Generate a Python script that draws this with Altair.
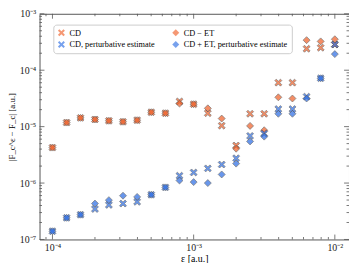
import altair as alt
import pandas as pd

# epsilon values [a.u.]
eps = [1.0e-4, 1.26e-4, 1.58e-4, 2.0e-4, 2.51e-4, 3.16e-4, 3.98e-4, 5.01e-4, 6.31e-4, 7.94e-4,
       1.0e-3, 1.26e-3, 1.58e-3, 2.0e-3, 2.51e-3, 3.16e-3, 3.98e-3, 5.01e-3, 6.31e-3, 7.94e-3, 1.0e-2]

cd = [4.25e-6, 1.18e-5, 1.43e-5, 1.34e-5, 1.27e-5, 1.22e-5, 1.30e-5, 1.80e-5, 1.73e-5, 2.80e-5,
      2.50e-5, 1.73e-5, 1.04e-5, 4.63e-6, 1.69e-5, 1.69e-5, 6.02e-5, 6.02e-5, 2.40e-4, 2.50e-4, 2.85e-4]
cd_et = [4.25e-6, 1.18e-5, 1.43e-5, 1.34e-5, 1.27e-5, 1.22e-5, 1.30e-5, 1.80e-5, 1.73e-5, 2.56e-5,
         2.50e-5, 2.11e-5, 1.39e-5, 4.06e-6, 1.03e-5, 8.63e-6, 3.31e-5, 3.15e-5, 3.41e-4, 3.24e-4, 3.54e-4]
cd_pert = [1.40e-7, 2.42e-7, 2.75e-7, 3.47e-7, 4.10e-7, 4.33e-7, 4.64e-7, 6.21e-7, 8.38e-7, 1.35e-6,
           1.54e-6, 1.82e-6, 2.13e-6, 2.75e-6, 6.84e-6, 7.55e-6, 2.05e-5, 2.05e-5, 3.40e-5, 7.20e-5, 2.85e-4]
cd_et_pert = [1.40e-7, 2.42e-7, 2.75e-7, 4.33e-7, 4.98e-7, 5.97e-7, 5.68e-7, 6.21e-7, 8.38e-7, 1.11e-6,
              1.04e-6, 1.00e-6, 1.42e-6, 2.21e-6, 5.47e-6, 6.65e-6, 1.69e-5, 1.69e-5, 3.15e-5, 7.20e-5, 1.93e-4]

names = ["CD", "CD − ET", "CD, perturbative estimate", "CD + ET, perturbative estimate"]
series = [cd, cd_et, cd_pert, cd_et_pert]
legend_order = [names[0], names[2], names[1], names[3]]
colors = {names[0]: "#f0622a", names[1]: "#f0622a", names[2]: "#2f6fe4", names[3]: "#2f6fe4"}
XPATH = "M-1,-0.6L-0.6,-1L0,-0.4L0.6,-1L1,-0.6L0.4,0L1,0.6L0.6,1L0,0.4L-0.6,1L-1,0.6L-0.4,0Z"
shapes = {names[0]: XPATH, names[1]: "diamond", names[2]: XPATH, names[3]: "diamond"}
sizes = {names[0]: 50, names[1]: 100, names[2]: 50, names[3]: 100}

y_major = [1e-7, 1e-6, 1e-5, 1e-4, 1e-3]
y_minor = [m * d for d in [1e-7, 1e-6, 1e-5, 1e-4] for m in range(2, 10)]
x_major = [1e-4, 1e-3, 1e-2]
x_minor = [9e-5] + [m * d for d in [1e-4, 1e-3] for m in range(2, 10)]

rows = []
for order, (n, vals) in enumerate(zip(names, series)):
    for e, v in zip(eps, vals):
        rows.append({"eps": e, "val": v, "series": n, "order": order})
df = pd.DataFrame(rows)

W, H = 314, 229
XDOM = [8.1e-5, 0.0126]
YDOM = [1e-7, 1e-3]
FONT = "Liberation Serif"

xscale = alt.Scale(type="log", domain=XDOM, nice=False)
yscale = alt.Scale(type="log", domain=YDOM, nice=False)

e = "round(log(datum.value)/LN10)"
lab = (f"{e} == -2 ? '10⁻²' : {e} == -3 ? '10⁻³' : {e} == -4 ? '10⁻⁴' : "
       f"{e} == -5 ? '10⁻⁵' : {e} == -6 ? '10⁻⁶' : {e} == -7 ? '10⁻⁷' : ''")

xaxis = alt.Axis(values=x_major, labelExpr=lab, ticks=False, domain=False,
                 grid=False, labelFont=FONT, labelFontSize=10, labelPadding=3,
                 title="ε [a.u.]", titleFont=FONT, titleFontSize=10,
                 titleFontWeight="normal", titlePadding=1, labelColor="#222222")
yaxis = alt.Axis(values=y_major, labelExpr=lab, ticks=False, domain=False,
                 grid=False, labelFont=FONT, labelFontSize=10, labelPadding=4,
                 title="|F_c^ε − F_c| [a.u.]", titleFont=FONT, titleFontSize=9,
                 titleFontWeight="normal", titlePadding=3, labelColor="#222222")

legend = alt.Legend(title=None, orient="none", legendX=14, legendY=11, columns=2,
                    labelFont=FONT, labelFontSize=8.4, padding=4,
                    strokeColor="#cccccc", fillColor="white", cornerRadius=3,
                    rowPadding=2, columnPadding=16, labelLimit=300, symbolStrokeWidth=0.6,
                    symbolStrokeColor="#666666", symbolOpacity=0.65, labelOffset=4)

points = alt.Chart(df).mark_point(filled=True, opacity=0.72, stroke="#444444",
                                   strokeWidth=0.7).encode(
    x=alt.X("eps:Q", scale=xscale, axis=xaxis),
    y=alt.Y("val:Q", scale=yscale, axis=yaxis),
    color=alt.Color("series:N", scale=alt.Scale(domain=legend_order,
                                                range=[colors[n] for n in legend_order]),
                    legend=legend),
    shape=alt.Shape("series:N", scale=alt.Scale(domain=legend_order,
                                                range=[shapes[n] for n in legend_order]),
                    legend=legend),
    size=alt.Size("series:N", scale=alt.Scale(domain=legend_order,
                                              range=[sizes[n] for n in legend_order]),
                  legend=legend),
    order=alt.Order("order:Q"),
)

ymaj = pd.DataFrame({"v": y_major})
ymin = pd.DataFrame({"v": y_minor})
xmaj = pd.DataFrame({"v": x_major})
xmin = pd.DataFrame({"v": x_minor})

def yticks(d, L):
    base = alt.Chart(d).mark_rule(color="#555555", strokeWidth=0.8)
    left = base.encode(y=alt.Y("v:Q", scale=yscale, axis=yaxis), x=alt.value(0), x2=alt.value(L))
    right = base.encode(y=alt.Y("v:Q", scale=yscale, axis=yaxis), x=alt.value(W), x2=alt.value(W - L))
    return [left, right]

def xticks(d, L):
    base = alt.Chart(d).mark_rule(color="#555555", strokeWidth=0.8)
    bot = base.encode(x=alt.X("v:Q", scale=xscale, axis=xaxis), y=alt.value(H), y2=alt.value(H - L))
    top = base.encode(x=alt.X("v:Q", scale=xscale, axis=xaxis), y=alt.value(0), y2=alt.value(L))
    return [bot, top]

layers = [points] + yticks(ymaj, 5) + yticks(ymin, 2.5) + xticks(xmaj, 5) + xticks(xmin, 2.5)

chart = alt.layer(*layers).properties(
    width=W, height=H,
    autosize=alt.AutoSizeParams(type="none"),
    padding={"left": 32, "top": 4, "right": 0, "bottom": 22},
).configure_view(stroke="#555555", strokeWidth=1)

chart.save("out.html", embed_options={"renderer": "svg", "actions": False})
